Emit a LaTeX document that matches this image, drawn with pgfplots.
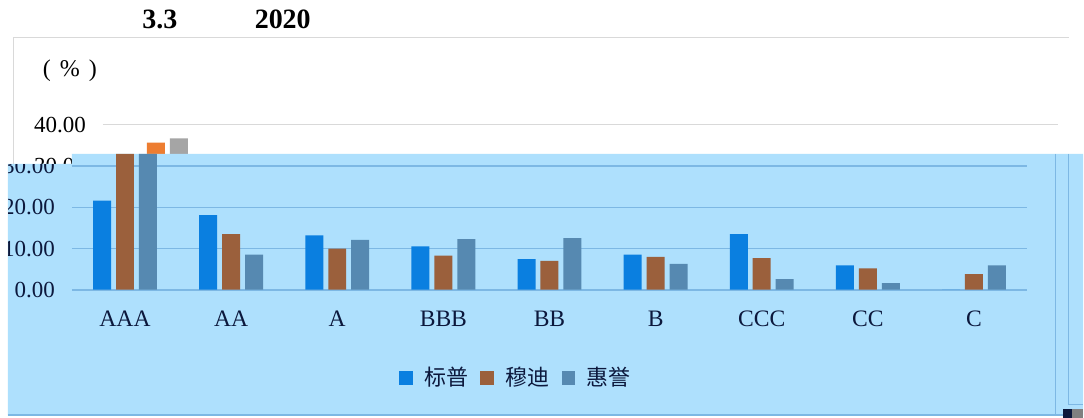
\documentclass[border=0pt]{standalone}
\usepackage{pgfplots}
\pgfplotsset{compat=1.18}
\usepackage{pgfplotstable}
\usepackage{fontspec}
\setmainfont{Liberation Serif}
\newfontfamily\cjk{Noto Sans CJK SC}
\definecolor{sp}{RGB}{10,127,224}
\definecolor{md}{RGB}{155,96,60}
\definecolor{hy}{RGB}{86,137,177}
\definecolor{ov}{RGB}{174,224,253}
\definecolor{ovgrid}{RGB}{125,184,228}
\definecolor{navy}{RGB}{12,24,60}
\definecolor{xlblue}{RGB}{68,114,196}
\definecolor{xlorange}{RGB}{237,125,49}
\definecolor{xlgray}{RGB}{165,165,165}
\definecolor{frame}{RGB}{217,217,217}

\pgfplotstableread{
cat sp md hy
0 21.6 35.7 36.7
1 18.1 13.5 8.5
2 13.2 10.0 12.1
3 10.5 8.3 12.3
4 7.4 7.0 12.5
5 8.5 8.0 6.3
6 13.5 7.7 2.6
7 5.9 5.2 1.6
8 0 3.8 5.9
}\data

\pgfplotsset{base/.style={
  scale only axis, width=478pt, height=82.5pt,
  xmin=-0.5, xmax=8.5, ymin=0, ymax=40,
  ybar=2.5pt, bar width=9pt,
  xtick={0,...,8}, xticklabels={AAA,AA,A,BBB,BB,B,CCC,CC,C},
  ytick={0,10,20,30,40},
  ymajorgrids, axis line style={draw=none}, major tick length=0pt,
  clip=false,
  y tick label style={/pgf/number format/fixed, /pgf/number format/fixed zerofill,
     /pgf/number format/precision=2, /pgf/number format/assume math mode=true,
     font=\fontsize{11.5}{13}\selectfont, xshift=-5pt},
  x tick label style={font=\fontsize{11.8}{13}\selectfont, yshift=-7pt},
  anchor=south west,
}}

\begin{document}
\begin{tikzpicture}
\begin{scope}[x=0.5pt,y=-0.5pt]
  \path[use as bounding box] (0,0) rectangle (1084,418);
  \fill[white] (0,0) rectangle (1084,418);
  \coordinate (A1) at (103,290);
  \coordinate (A2) at (72,290);
  \coordinate (C1) at (8,164);
  \coordinate (C2) at (72,164);
  \coordinate (C3) at (72,154);
  \coordinate (C4) at (1084,154);
  \coordinate (C5) at (1084,416);
  \coordinate (C6) at (8,416);
  \draw[frame] (13,164) -- (13,37) -- (1070,37);
  \node[font=\bfseries\fontsize{14}{16}\selectfont] at (160,19) {3.3};
  \node[font=\bfseries\fontsize{14}{16}\selectfont] at (283,19) {2020};
  \node[font=\fontsize{12}{14}\selectfont] at (70,71) {(\hspace{4.5pt}\%\hspace{4.5pt})};
\end{scope}

% underlying original chart
\begin{axis}[base, at={(A1)}, grid style={frame}, yticklabel style={text=black},
  ytick={30,40}, xticklabels={}]
\addplot[fill=xlblue, draw=none] table[x=cat,y=sp]{\data};
\addplot[fill=xlorange, draw=none] table[x=cat,y=md]{\data};
\addplot[fill=xlgray, draw=none] table[x=cat,y=hy]{\data};
\end{axis}

% overlay
\fill[ov] (C1) -- (C2) -- (C3) -- (C4) -- (C5) -- (C6) -- cycle;
\begin{scope}
\clip (C1) -- (C2) -- (C3) -- (C4) -- (C5) -- (C6) -- cycle;
\begin{axis}[base, at={(A2)}, grid style={ovgrid, line width=0.8pt},
  ytick={0,10,20,30},
  ticklabel style={text=navy},
  legend style={at={(0.466,-0.535)}, anchor=center, draw=none, fill=none,
    legend columns=3, font=\cjk\fontsize{11}{13}\selectfont, text=navy,
    /tikz/every odd column/.append style={column sep=4pt},
    /tikz/every even column/.append style={column sep=4pt}},
  legend image code/.code={\fill[#1] (0pt,-3.3pt) rectangle (6.6pt,3.3pt);}]
\addplot[fill=sp, draw=none] table[x=cat,y=sp]{\data};
\addplot[fill=md, draw=none] table[x=cat,y=md]{\data};
\addplot[fill=hy, draw=none] table[x=cat,y=hy]{\data};
\legend{标普,穆迪,惠誉}
\end{axis}
\end{scope}

\begin{scope}[x=0.5pt,y=-0.5pt]
  \draw[ovgrid] (1056,154) -- (1056,416);
  \draw[ovgrid] (1069,154) -- (1069,405) -- (1084,405);
  \draw[ovgrid, line width=1pt] (8,415) -- (1084,415);
  \fill[navy] (1064,409) rectangle (1073,418);
  \fill[gray] (1073,409) rectangle (1084,418);
\end{scope}
\end{tikzpicture}
\end{document}
